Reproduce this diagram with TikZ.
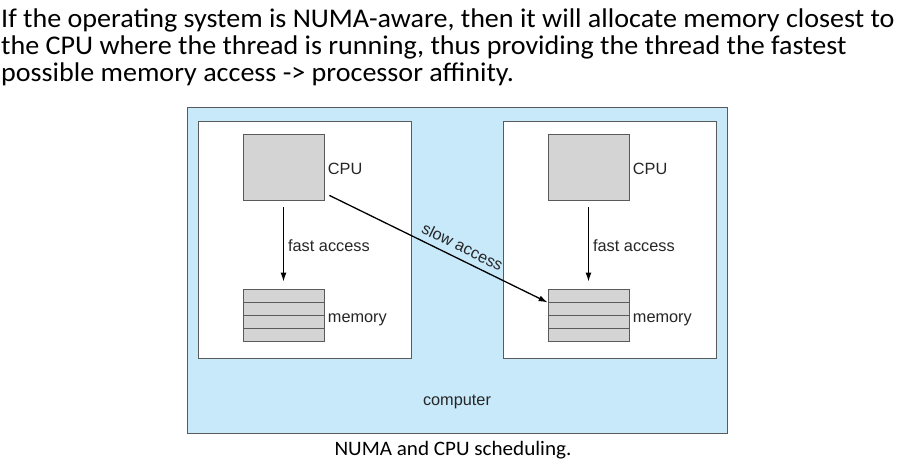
\documentclass[tikz,border=0pt]{standalone}
\usepackage{fontspec}
\setmainfont{Carlito}
\newfontfamily\labelfont{Liberation Sans}
\usetikzlibrary{calc,arrows.meta}

\definecolor{boardblue}{RGB}{199,233,250}
\definecolor{chipgray}{RGB}{212,212,212}
\definecolor{edgegray}{RGB}{90,90,90}

\begin{document}
\begin{tikzpicture}[x=1pt, y=-1pt]
	\tikzstyle{computer} = [ draw=edgegray, fill=boardblue, line width=0.9pt, minimum width=540pt, minimum height=326pt, inner sep=0pt ];
	\tikzstyle{node box} = [ draw=edgegray, fill=white, line width=0.9pt, minimum width=213pt, minimum height=237pt, inner sep=0pt ];
	\tikzstyle{cpu} = [ draw=edgegray, fill=chipgray, line width=0.8pt, minimum width=81pt, minimum height=66pt, inner sep=0pt ];
	\tikzstyle{row} = [ draw=edgegray, fill=chipgray, line width=0.8pt, minimum width=81pt, minimum height=13pt, inner sep=0pt ];
	\tikzstyle{info} = [ font={\labelfont\fontsize{16.3}{18}\selectfont}, text=black!85 ];
	\tikzstyle{access} = [ -{Latex[length=9pt,width=6pt]}, line width=1.3pt ];

	\useasboundingbox (0,0) rectangle (914,466);

	\node[anchor=north west, align=left, inner sep=0pt, xscale=1.04, transform shape,
		font={\fontsize{27}{27}\selectfont}] (title) at (1,8.5)
		{If the operating system is NUMA-aware, then it will allocate memory closest to\\
		 the CPU where the thread is running, thus providing the thread the fastest\\
		 possible memory access -> processor affinity.};

	\node[computer] (computer) at (457,270.5) {};
	\node[info] (computerlabel) at (457,402) {computer};

	% two nodes of the machine, each with its CPU and memory
	\foreach \side/\x in {L/305, R/610} {
		\node[node box] (box\side) at (\x,239.5) {};
		\node[cpu] (cpu\side) at (\x-21.5,167) {};
		\node[info, anchor=west] at ($(cpu\side.east)+(0,2)$) {CPU};
		\foreach \r in {1,...,4} {
			\node[row] (mem\side\r) at (\x-21.5,282.5+13*\r) {};
		}
		\node[info, anchor=base west] at ($(mem\side3.north east)+(0,8)$) {memory};
		\draw[access, shorten <=7pt, shorten >=7pt] (cpu\side.south) to
			node[info, right, pos=0.5, inner sep=4pt, yshift=-1pt] {fast access} (mem\side1.north);
	}

	\coordinate (slowstart) at ($(cpuL.south east)+(5,-5)$);
	\draw[access] (slowstart) to node[info, sloped, above, pos=0.585, inner sep=6pt] {slow access} (memR1.south west);

	\node[font={\fontsize{20.5}{22}\selectfont}, xscale=1.03, transform shape] (caption) at (453,450) {NUMA and CPU scheduling.};
\end{tikzpicture}
\end{document}
